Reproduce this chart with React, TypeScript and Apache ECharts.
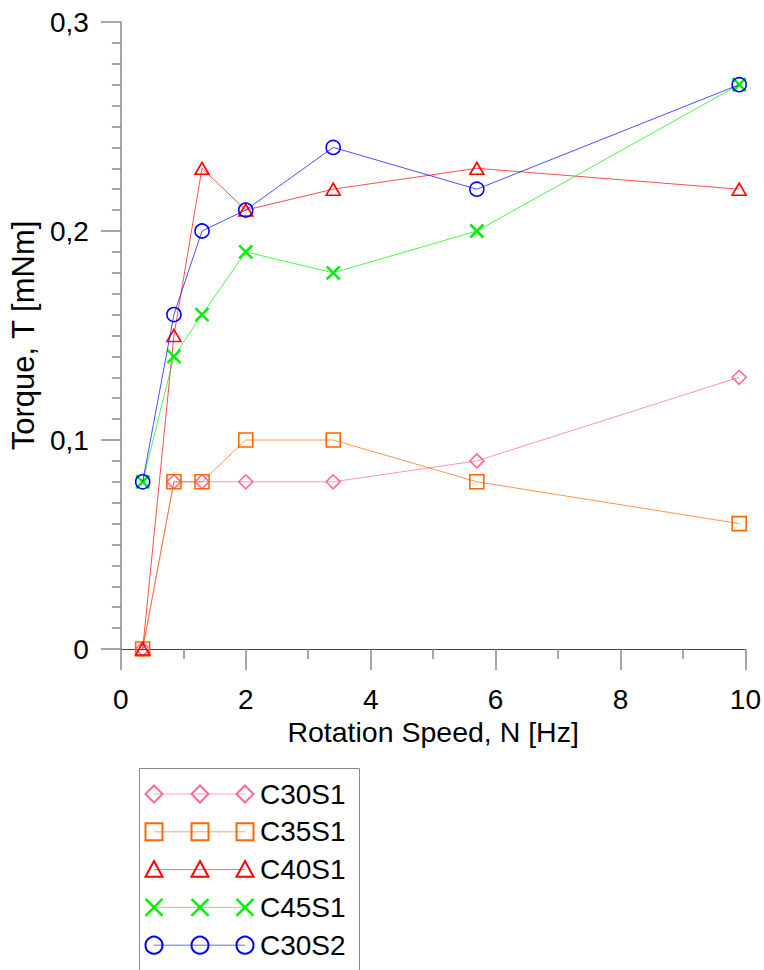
import React, { useEffect, useRef } from "react";
import * as echarts from "echarts";

const xValues = [0.35, 0.85, 1.3, 2, 3.4, 5.7, 9.9];
const seriesNames = ["C30S1", "C35S1", "C40S1", "C45S1", "C30S2"];
const c30s1 = [0, 0.08, 0.08, 0.08, 0.08, 0.09, 0.13];
const c35s1 = [0, 0.08, 0.08, 0.1, 0.1, 0.08, 0.06];
const c40s1 = [0, 0.15, 0.23, 0.21, 0.22, 0.23, 0.22];
const c45s1 = [0.08, 0.14, 0.16, 0.19, 0.18, 0.2, 0.27];
const c30s2 = [0.08, 0.16, 0.2, 0.21, 0.24, 0.22, 0.27];
const seriesValues = [c30s1, c35s1, c40s1, c45s1, c30s2];
const seriesColors = ["#FF6699", "#FF6600", "#FF0000", "#00EE00", "#0000FF"];
const seriesSymbols = ["diamond", "rect", "triangle", "cross", "circle"];

const FONT = 'Arial, "Liberation Sans", sans-serif';
const CROSS = "path://M0,0L10,10M0,10L10,0";

function symbolFor(s: string) {
  if (s === "cross") return CROSS;
  return s;
}

function legendMarker(kind: string, cx: number, cy: number, color: string, r: number) {
  const style = { fill: "none", stroke: color, lineWidth: 2 };
  if (kind === "diamond")
    return { type: "polygon", shape: { points: [[cx, cy - r], [cx + r, cy], [cx, cy + r], [cx - r, cy]] }, style };
  if (kind === "rect")
    return { type: "rect", shape: { x: cx - r, y: cy - r, width: 2 * r, height: 2 * r }, style };
  if (kind === "triangle")
    return { type: "polygon", shape: { points: [[cx, cy - r], [cx + r, cy + r * 0.85], [cx - r, cy + r * 0.85]] }, style };
  if (kind === "circle") return { type: "circle", shape: { cx, cy, r }, style };
  return {
    type: "group",
    children: [
      { type: "line", shape: { x1: cx - r, y1: cy - r, x2: cx + r, y2: cy + r }, style: { stroke: color, lineWidth: 2.5 } },
      { type: "line", shape: { x1: cx - r, y1: cy + r, x2: cx + r, y2: cy - r }, style: { stroke: color, lineWidth: 2.5 } },
    ],
  };
}

export default function App() {
  const ref = useRef<HTMLDivElement>(null);
  useEffect(() => {
    if (!ref.current) return;
    const chart = echarts.init(ref.current, null, { renderer: "svg" });

    const legendEls: any[] = [
      {
        type: "rect",
        shape: { x: 139.5, y: 768.5, width: 220, height: 230 },
        style: { fill: "#fff", stroke: "#888", lineWidth: 1 },
      },
    ];
    const mx = [154, 200, 245];
    seriesNames.forEach((name, i) => {
      const cy = 794 + i * 37.8;
      const color = seriesColors[i];
      legendEls.push({
        type: "line",
        shape: { x1: mx[0], y1: cy, x2: mx[2], y2: cy },
        style: { stroke: color, lineWidth: 1, opacity: 0.6 },
      });
      mx.forEach((x) => legendEls.push(legendMarker(seriesSymbols[i], x, cy, color, 8.5)));
      legendEls.push({
        type: "text",
        x: 260,
        y: cy,
        style: { text: name, fontSize: 28, fontFamily: FONT, fill: "#000", verticalAlign: "middle", align: "left" },
      });
    });

    chart.setOption({
      animation: false,
      backgroundColor: "#fff",
      grid: { left: 118, right: 17, top: 22, bottom: 321, containLabel: false },
      xAxis: {
        type: "value",
        min: 0,
        max: 10,
        interval: 2,
        name: "Rotation Speed, N [Hz]",
        nameLocation: "middle",
        nameGap: 68,
        nameTextStyle: { fontSize: 28.5, fontFamily: FONT, color: "#000" },
        axisLine: { show: true, onZero: false, lineStyle: { color: "#444", width: 1 } },
        axisTick: { show: true, inside: false, length: 21, lineStyle: { color: "#888", width: 1.5 } },
        minorTick: { show: true, splitNumber: 2, length: 10, lineStyle: { color: "#888", width: 1.5 } },
        axisLabel: { fontSize: 28, fontFamily: FONT, color: "#000", margin: 36 },
        splitLine: { show: false },
      },
      yAxis: {
        type: "value",
        min: 0,
        max: 0.3,
        interval: 0.1,
        name: "Torque, T [mNm]",
        nameLocation: "middle",
        nameGap: 63,
        nameTextStyle: { fontSize: 31, fontFamily: FONT, color: "#000" },
        axisLine: { show: true, onZero: false, lineStyle: { color: "#888", width: 1.5 } },
        axisTick: { show: true, inside: false, length: 20, lineStyle: { color: "#888", width: 1.5 } },
        minorTick: { show: true, splitNumber: 10, length: 9, lineStyle: { color: "#888", width: 1.5 } },
        axisLabel: {
          fontSize: 28,
          fontFamily: FONT,
          color: "#000",
          margin: 32,
          formatter: (v: number) => (v === 0 ? "0" : v.toFixed(1).replace(".", ",")),
        },
        splitLine: { show: false },
      },
      series: seriesNames.map((name, i) => ({
        name,
        type: "line",
        data: xValues.map((x, j) => [x, seriesValues[i][j]]),
        symbol: symbolFor(seriesSymbols[i]),
        symbolSize: seriesSymbols[i] === "triangle" ? [14, 12] : seriesSymbols[i] === "cross" ? 13 : 14,
        showSymbol: true,
        lineStyle: { color: seriesColors[i], width: 1, opacity: 0.7 },
        itemStyle: {
          color: "rgba(0,0,0,0)",
          borderColor: seriesColors[i],
          borderWidth: seriesSymbols[i] === "cross" ? 2.5 : 1.6,
        },
        emphasis: { disabled: true },
        z: 2 + i,
      })),
      graphic: legendEls,
    });
    return () => chart.dispose();
  }, []);
  return <div ref={ref} style={{ position: "absolute", left: 0, top: 0, width: 764, height: 970 }} />;
}
